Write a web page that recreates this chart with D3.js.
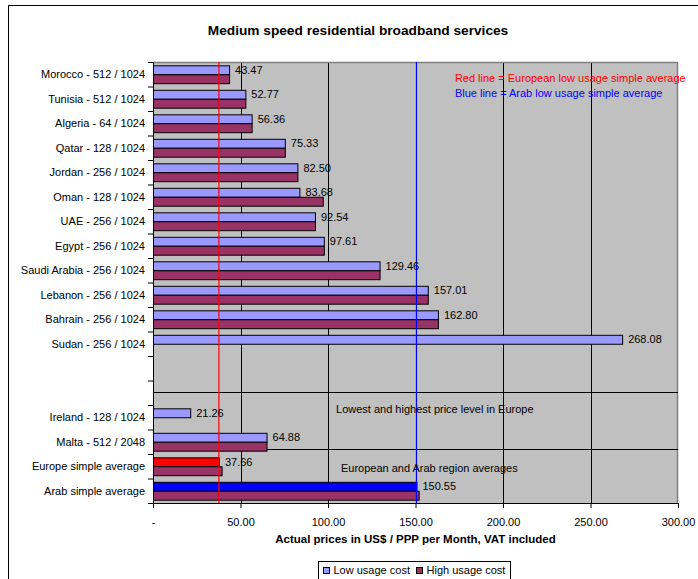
<!DOCTYPE html>
<html>
<head>
<meta charset="utf-8">
<script src="https://cdn.jsdelivr.net/npm/d3@7"></script>
<style>
body{margin:0;background:#fff;}
text{font-family:"Liberation Sans",Arial,sans-serif;}
</style>
</head>
<body>
<div id="container"></div>
<script>
// categories, top to bottom ("" = empty slot)
var categories = ["Morocco - 512 / 1024","Tunisia - 512 / 1024","Algeria - 64 / 1024","Qatar - 128 / 1024",
  "Jordan - 256 / 1024","Oman - 128 / 1024","UAE - 256 / 1024","Egypt - 256 / 1024",
  "Saudi Arabia - 256 / 1024","Lebanon - 256 / 1024","Bahrain - 256 / 1024","Sudan - 256 / 1024",
  "","","Ireland - 128 / 1024","Malta - 512 / 2048","Europe simple average","Arab simple average"];
var lowUsage  = [43.47,52.77,56.36,75.33,82.50,83.68,92.54,97.61,129.46,157.01,162.80,268.08,null,null,21.26,64.88,37.66,150.55];
var highUsage = [43.47,52.77,56.36,75.33,82.50,97.0,92.54,97.61,129.46,157.01,162.80,null,null,null,null,64.88,39.2,151.8];
var xTicks = [0,50,100,150,200,250,300];
var refLines = [{value:37.66,color:"#ff0000"},{value:150.55,color:"#0000ff"}];
var separators = [13.47,15.8]; // in category units from the top
var notes = [
  {text:"Red line = European low usage simple average",x:172.5,y:0.65,color:"#ff0000"},
  {text:"Blue line = Arab low usage simple average",x:172.5,y:1.27,color:"#0000ff"},
  {text:"Lowest and highest price level in Europe",x:104.6,y:14.16,color:"#000"},
  {text:"European and Arab region averages",x:107.4,y:16.57,color:"#000"}
];

var W = 698, H = 579;
var margin = {top:62,right:20,bottom:76,left:153};
var width = W - margin.left - margin.right, height = H - margin.top - margin.bottom;

var svg = d3.select("#container").append("svg").attr("width",W).attr("height",H);

// outer frame
svg.append("rect").attr("x",8.5).attr("y",5.5).attr("width",720).attr("height",620)
  .attr("fill","none").attr("stroke","#000");

svg.append("text").attr("x",358).attr("y",35).attr("text-anchor","middle")
  .attr("font-size","13.7px").attr("font-weight","bold").text("Medium speed residential broadband services");

var g = svg.append("g").attr("transform","translate("+margin.left+","+margin.top+")");

var x = d3.scaleLinear().domain([0,300]).range([0,width]);
var y = d3.scaleBand().domain(d3.range(categories.length)).range([0,height]).paddingInner(0.27).paddingOuter(0.135);
var yUnit = d3.scaleLinear().domain([0,categories.length]).range([0,height]);

g.append("rect").attr("width",width).attr("height",height).attr("fill","#c0c0c0");

// gridlines
g.selectAll(".grid").data(xTicks.slice(1,-1)).enter().append("line")
  .attr("x1",d=>Math.round(x(d))+0.5).attr("x2",d=>Math.round(x(d))+0.5)
  .attr("y1",0).attr("y2",height).attr("stroke","#000");

// plot border (top / right)
g.append("path").attr("d","M0,0.5H"+(width-0.5)+"V"+height).attr("fill","none").attr("stroke","#808080").attr("stroke-width",1.5);

// separators
g.selectAll(".sep").data(separators).enter().append("line")
  .attr("x1",0).attr("x2",width)
  .attr("y1",d=>Math.round(yUnit(d))+0.5).attr("y2",d=>Math.round(yUnit(d))+0.5)
  .attr("stroke","#000");

var bh = y.bandwidth()/2;
var rows = categories.map((c,i)=>({i:i,low:lowUsage[i],high:highUsage[i]}));

function lowColor(i){
  if(categories[i]=="Europe simple average") return "#ff0000";
  if(categories[i]=="Arab simple average") return "#0000ff";
  return "#9999ff";
}

g.selectAll(".low").data(rows.filter(d=>d.low!=null)).enter().append("rect")
  .attr("x",0.5).attr("y",d=>y(d.i)+0.5).attr("width",d=>x(d.low)).attr("height",bh)
  .attr("fill",d=>lowColor(d.i)).attr("stroke","#000");
g.selectAll(".high").data(rows.filter(d=>d.high!=null)).enter().append("rect")
  .attr("x",0.5).attr("y",d=>y(d.i)+bh+0.5).attr("width",d=>x(d.high)).attr("height",bh)
  .attr("fill","#993366").attr("stroke","#000");

// reference lines
g.selectAll(".ref").data(refLines).enter().append("line")
  .attr("x1",d=>x(d.value)).attr("x2",d=>x(d.value)).attr("y1",0).attr("y2",height)
  .attr("stroke",d=>d.color).attr("stroke-width",1.2);

// value labels
g.selectAll(".val").data(rows.filter(d=>d.low!=null)).enter().append("text")
  .attr("x",d=>x(d.low)+6).attr("y",d=>y(d.i)+bh/2).attr("dy","0.35em")
  .attr("font-size","11px").text(d=>d3.format(".2f")(d.low));

// notes
g.selectAll(".note").data(notes).enter().append("text")
  .attr("x",d=>x(d.x)).attr("y",d=>yUnit(d.y)).attr("dy","0.35em")
  .attr("font-size","11px").attr("fill",d=>d.color).text(d=>d.text);

// y axis
var yAxis = d3.axisLeft(yUnit).tickValues(d3.range(categories.length+1)).tickSize(5).tickFormat("");
var ya = g.append("g").call(yAxis);
ya.select(".domain").remove();
ya.append("line").attr("x1",0.5).attr("x2",0.5).attr("y1",0).attr("y2",height).attr("stroke","#000");
g.selectAll(".cat").data(categories).enter().append("text")
  .attr("x",-8).attr("y",(d,i)=>y(i)+y.bandwidth()/2).attr("dy","0.35em")
  .attr("text-anchor","end").attr("font-size","11px").text(d=>d);

// x axis
var xAxis = d3.axisBottom(x).tickValues(xTicks).tickSize(5).tickSizeOuter(0)
  .tickFormat(d=>d==0?"-":d3.format(".2f")(d));
var xa = g.append("g").attr("transform","translate(0,"+height+")").call(xAxis);
xa.select(".domain").attr("stroke","#000");
xa.selectAll("text").attr("font-size","11px").attr("dy","1.35em").attr("fill","#000")
  .style("font-family","Liberation Sans, Arial, sans-serif");

g.append("text").attr("x",width/2).attr("y",height+40).attr("text-anchor","middle")
  .attr("font-size","11.5px").attr("font-weight","bold").text("Actual prices in US$ / PPP per Month, VAT included");

// legend
var leg = svg.append("g").attr("transform","translate(318.5,561.5)");
leg.append("rect").attr("width",192).attr("height",20).attr("fill","#fff").attr("stroke","#000");
var items = [{label:"Low usage cost",color:"#9999ff",x:5},{label:"High usage cost",color:"#993366",x:98}];
items.forEach(function(it){
  leg.append("rect").attr("x",it.x).attr("y",6).attr("width",6).attr("height",6).attr("fill",it.color).attr("stroke","#000");
  leg.append("text").attr("x",it.x+10).attr("y",9).attr("dy","0.35em").attr("font-size","11px").text(it.label);
});
</script>
</body>
</html>
